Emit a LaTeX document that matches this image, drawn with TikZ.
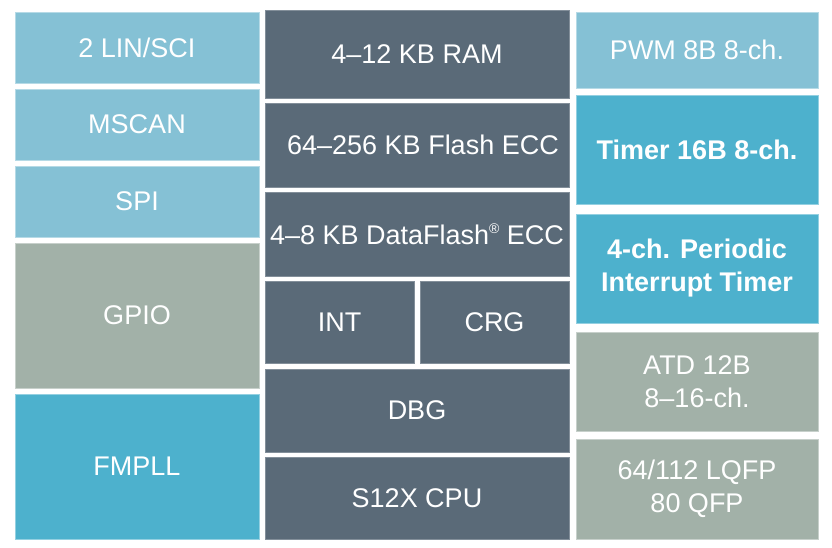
\documentclass[tikz,border=0pt]{standalone}
\usepackage{fontspec}
\setmainfont{Liberation Sans}
\definecolor{liteblue}{HTML}{85C1D5}
\definecolor{slate}{HTML}{5A6A78}
\definecolor{teal}{HTML}{4DB1CD}
\definecolor{sage}{HTML}{A2B1A8}
\tikzset{
  blk/.style={rectangle, inner sep=0pt, align=center, text=white,
    line width=0.7pt, font=\fontsize{27}{33}\selectfont},
  lite/.style={blk, fill=liteblue, draw=liteblue!60!white},
  core/.style={blk, fill=slate, draw=slate!75!white},
  tmr/.style={blk, fill=teal, draw=teal!60!white},
  misc/.style={blk, fill=sage, draw=sage!60!white}
}
\begin{document}
\begin{tikzpicture}[x=1pt, y=-1pt]
\useasboundingbox [fill=white] (0,0) rectangle (832,548);

% left column
\node [lite, minimum width=244pt, minimum height=71pt]  (lin)   at (137,47.5)  {2 LIN/SCI};
\node [lite, minimum width=244pt, minimum height=71pt]  (mscan) at (137,124.5) {MSCAN};
\node [lite, minimum width=244pt, minimum height=71pt]  (spi)   at (137,201.5) {SPI};
\node [misc, minimum width=244pt, minimum height=145pt] (gpio)  at (137,315.5) {GPIO};
\node [tmr,  minimum width=244pt, minimum height=145pt] (fmpll) at (137,466.5) {FMPLL};

% core column
\node [core, minimum width=304pt, minimum height=88pt] (ram)    at (417,54)    {4--12 KB RAM};
\node [core, minimum width=304pt, minimum height=84pt] (flash)  at (417,145)   {\hspace*{12pt}64--256 KB Flash ECC};
\node [core, minimum width=304pt, minimum height=84pt] (dflash) at (417,234)   {4--8 KB DataFlash\raisebox{0.75ex}{\fontsize{14}{14}\selectfont ®} ECC};
\node [core, minimum width=149pt, minimum height=82pt] (int)    at (339.5,322) {INT};
\node [core, minimum width=149pt, minimum height=82pt] (crg)    at (494.5,322) {CRG};
\node [core, minimum width=304pt, minimum height=83pt] (dbg)    at (417,410.5) {DBG};
\node [core, minimum width=304pt, minimum height=82pt] (cpu)    at (417,498)   {S12X CPU};

% right column
\node [lite, minimum width=242pt, minimum height=76pt]  (pwm)   at (697,50)    {PWM 8B 8-ch.};
\node [tmr,  minimum width=242pt, minimum height=109pt] (timer) at (697,149.5) {\bfseries Timer 16B 8-ch.};
\node [tmr,  minimum width=242pt, minimum height=109pt] (pit)   at (697,268.5) {\bfseries 4-ch. Periodic\\\bfseries Interrupt Timer};
\node [misc, minimum width=242pt, minimum height=99pt]  (atd)   at (697,381.5) {ATD 12B\\8--16-ch.};
\node [misc, minimum width=242pt, minimum height=100pt] (pkg)   at (697,489)   {64/112 LQFP\\80 QFP};

\end{tikzpicture}
\end{document}
